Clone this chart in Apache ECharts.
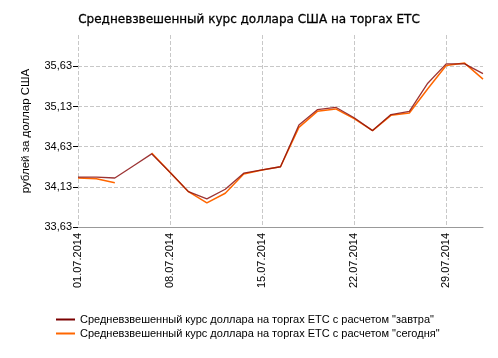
<!DOCTYPE html>
<html><head><meta charset="utf-8">
<script src="https://cdn.jsdelivr.net/npm/echarts@6/dist/echarts.min.js"></script>
<style>html,body{margin:0;padding:0;background:#fff}#c{width:498px;height:358px}</style>
</head><body><div id="c"></div>
<script>
const titleText = 'Средневзвешенный курс доллара США на торгах ЕТС';
const yAxisName = 'рублей за доллар США';
const dates = ['01.07.2014','02.07.2014','03.07.2014','04.07.2014','07.07.2014','08.07.2014','09.07.2014','10.07.2014','11.07.2014','14.07.2014','15.07.2014','16.07.2014','17.07.2014','18.07.2014','21.07.2014','22.07.2014','23.07.2014','24.07.2014','25.07.2014','28.07.2014','29.07.2014','30.07.2014','31.07.2014'];
const seriesTomorrowName = 'Средневзвешенный курс доллара на торгах ЕТС с расчетом "завтра"';
const seriesTodayName = 'Средневзвешенный курс доллара на торгах ЕТС с расчетом "сегодня"';
const tomorrow = [34.25,34.25,34.24,34.39,34.54,34.31,34.07,33.98,34.10,34.30,34.34,34.38,34.90,35.09,35.12,34.99,34.83,35.03,35.07,35.42,35.66,35.66,35.54];
const today = [34.24,34.23,34.18,null,34.55,34.31,34.07,33.93,34.05,34.29,34.34,34.38,34.87,35.07,35.10,34.98,34.83,35.02,35.05,35.35,35.64,35.67,35.47];
const yTicks = [33.63,34.13,34.63,35.13,35.63];

const chart = echarts.init(document.getElementById('c'));
chart.setOption({
  animation:false,
  backgroundColor:'#fff',
  title:{text:titleText,left:'center',top:9,textStyle:{fontFamily:'DejaVu Sans',fontSize:12,fontWeight:'normal',color:'#000',textBorderColor:'#000',textBorderWidth:0.3}},
  grid:{left:78,right:15,top:35,bottom:131},
  legend:{orient:'vertical',left:51,top:308,itemWidth:19,itemHeight:2,itemGap:1,icon:'rect',
    data:[seriesTomorrowName,seriesTodayName],
    textStyle:{fontFamily:'Liberation Sans',fontSize:11,color:'#000',lineHeight:13}},
  xAxis:{type:'category',data:dates,boundaryGap:false,
    axisLine:{lineStyle:{color:'#999'}},
    axisTick:{show:false},
    axisLabel:{interval:4,rotate:90,fontFamily:'Liberation Sans',fontSize:11,color:'#000',margin:6},
    splitLine:{show:true,interval:4,lineStyle:{color:'#c8c8c8',type:'dashed'}}},
  yAxis:{type:'value',min:33.63,max:36.02,
    name:yAxisName,nameLocation:'middle',nameGap:46,nameRotate:90,
    nameTextStyle:{fontFamily:'Liberation Sans',fontSize:11.5,color:'#000'},
    axisLine:{show:false},
    axisTick:{show:true,length:5,customValues:yTicks,lineStyle:{color:'#000'}},
    axisLabel:{customValues:yTicks,fontFamily:'Liberation Sans',fontSize:11,color:'#000',margin:6,
      formatter:v=>v.toFixed(2).replace('.',',')},
    splitLine:{show:true,lineStyle:{color:'#c8c8c8',type:'dashed'}}},
  series:[
    {name:seriesTodayName,type:'line',data:today,showSymbol:false,connectNulls:false,z:2,
      lineStyle:{color:'#ff6600',width:1.5},itemStyle:{color:'#ff6600'}},
    {name:seriesTomorrowName,type:'line',data:tomorrow,showSymbol:false,z:3,
      lineStyle:{color:'#8b1010',width:1.3,opacity:0.85},itemStyle:{color:'#7a0000'}}
  ]
});
</script></body></html>
